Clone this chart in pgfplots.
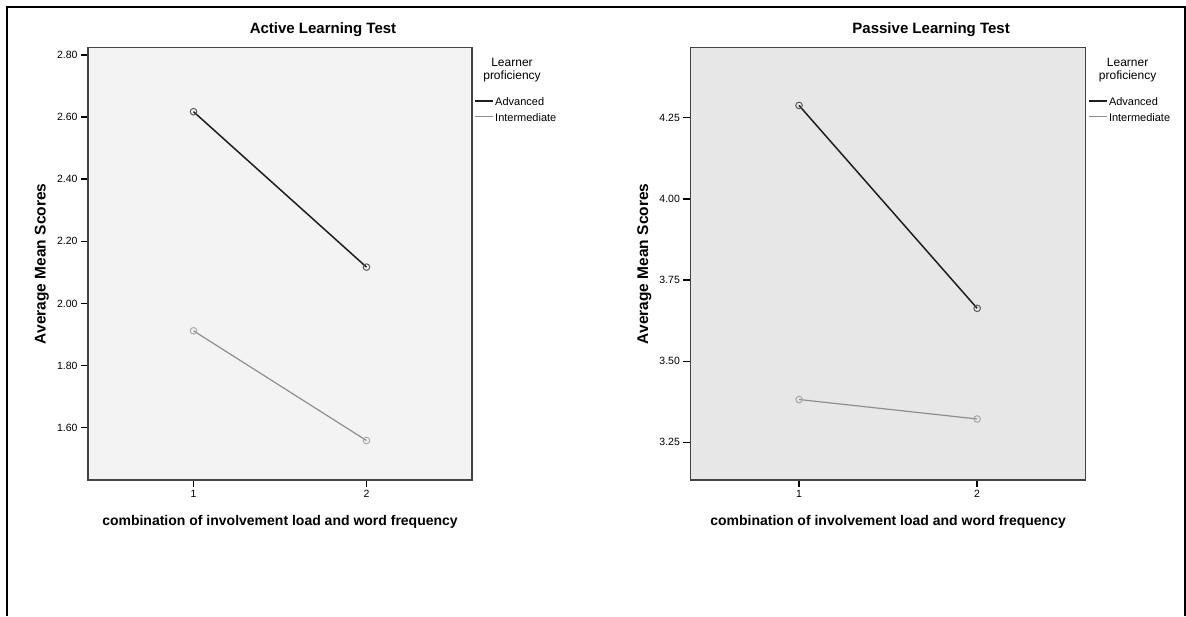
\documentclass[border=0pt]{standalone}
\usepackage{pgfplots}
\pgfplotsset{compat=1.18}
\usepackage{fontspec}
\setmainfont{Liberation Sans}
\definecolor{leftbg}{HTML}{F3F3F3}
\definecolor{rightbg}{HTML}{E7E7E7}
\definecolor{axisgray}{HTML}{444444}
\definecolor{advcol}{HTML}{1E1E1E}
\definecolor{intcol}{HTML}{8E8E8E}
\definecolor{advmark}{HTML}{5A5A5A}
\definecolor{intmark}{HTML}{A8A8A8}
\pgfplotsset{
  spss/.style={
    scale only axis, anchor=south west, clip mode=individual,
    xmin=0.39, xmax=2.61, xtick={1,2},
    xticklabel style={/pgf/number format/.cd, fixed, precision=0},
    yticklabel style={/pgf/number format/.cd, fixed, fixed zerofill, precision=2},
    /pgf/number format/assume math mode=true,
    tick label style={font=\fontsize{10.5}{12}\selectfont},
    axis line style={draw=axisgray, line width=1.2pt},
    tick align=outside, xtick pos=bottom, ytick pos=left,
    major tick length=7pt,
    tick style={black, line width=1.4pt},
    title style={font=\bfseries\fontsize{15}{17}\selectfont, at={(axis description cs:0.5,1)}, anchor=center, xshift=43pt, yshift=11.7pt},
    xlabel={combination of involvement load and word frequency},
    xlabel style={font=\bfseries\fontsize{14}{16}\selectfont, at={(axis description cs:0.5,0)}, anchor=center, yshift=-41.7pt},
    ylabel={Average Mean Scores},
    legend style={at={(axis description cs:1,1)}, anchor=north west, draw=none, fill=none,
      inner sep=0pt, xshift=2pt, yshift=-49pt, row sep=0pt,
      font=\fontsize{11}{13}\selectfont,
      nodes={inner xsep=1.5pt, inner ysep=0pt, text height=8.5pt, text depth=7.2pt}},
    legend cell align=left,
    legend image code/.code={\draw[#1] (0pt,3.6pt) -- (18pt,3.6pt);},
    every axis plot/.append style={mark=o, mark size=3.3pt},
  }
}
\begin{document}
\begin{tikzpicture}[x=1pt,y=1pt]
\useasboundingbox (0,0) rectangle (1186,616);
\draw[line width=2pt, black] (6.7,0) -- (6.7,609.3) -- (1184.5,609.3) -- (1184.5,0);
% Left panel
\begin{axis}[spss,
  at={(88pt,136pt)}, width=384pt, height=432.3pt,
  ymin=1.432, ymax=2.823, ytick={1.6,1.8,2.0,2.2,2.4,2.6,2.8},
  axis background/.style={fill=leftbg},
  title={Active Learning Test},
  every axis y label/.style={at={(axis description cs:-0.12,0.5)}, rotate=90, anchor=center, font=\bfseries\fontsize{15.5}{17}\selectfont},
]
\addplot[advcol, line width=1.5pt, mark options={draw=advmark, line width=1pt}] coordinates {(1,2.617) (2,2.117)};
\addplot[intcol, line width=1.2pt, mark options={draw=intmark, line width=1pt}] coordinates {(1,1.912) (2,1.559)};
\legend{Advanced, Intermediate}
\node[font=\fontsize{12}{13.4}\selectfont, align=center] at (rel axis cs:1,1) [xshift=40pt, yshift=-22.3pt] {Learner\\proficiency};
\end{axis}
% Right panel
\begin{axis}[spss,
  at={(690.4pt,136pt)}, width=395.4pt, height=432.3pt,
  ymin=3.134, ymax=4.466, ytick={3.25,3.5,3.75,4.0,4.25},
  axis background/.style={fill=rightbg},
  title={Passive Learning Test},
  every axis y label/.style={at={(axis description cs:-0.1164,0.5)}, rotate=90, anchor=center, font=\bfseries\fontsize{15.5}{17}\selectfont},
]
\addplot[advcol, line width=1.5pt, mark options={draw=advmark, line width=1pt}] coordinates {(1,4.288) (2,3.663)};
\addplot[intcol, line width=1.2pt, mark options={draw=intmark, line width=1pt}] coordinates {(1,3.382) (2,3.322)};
\legend{Advanced, Intermediate}
\node[font=\fontsize{12}{13.4}\selectfont, align=center] at (rel axis cs:1,1) [xshift=41.8pt, yshift=-22.3pt] {Learner\\proficiency};
\end{axis}
\end{tikzpicture}
\end{document}
